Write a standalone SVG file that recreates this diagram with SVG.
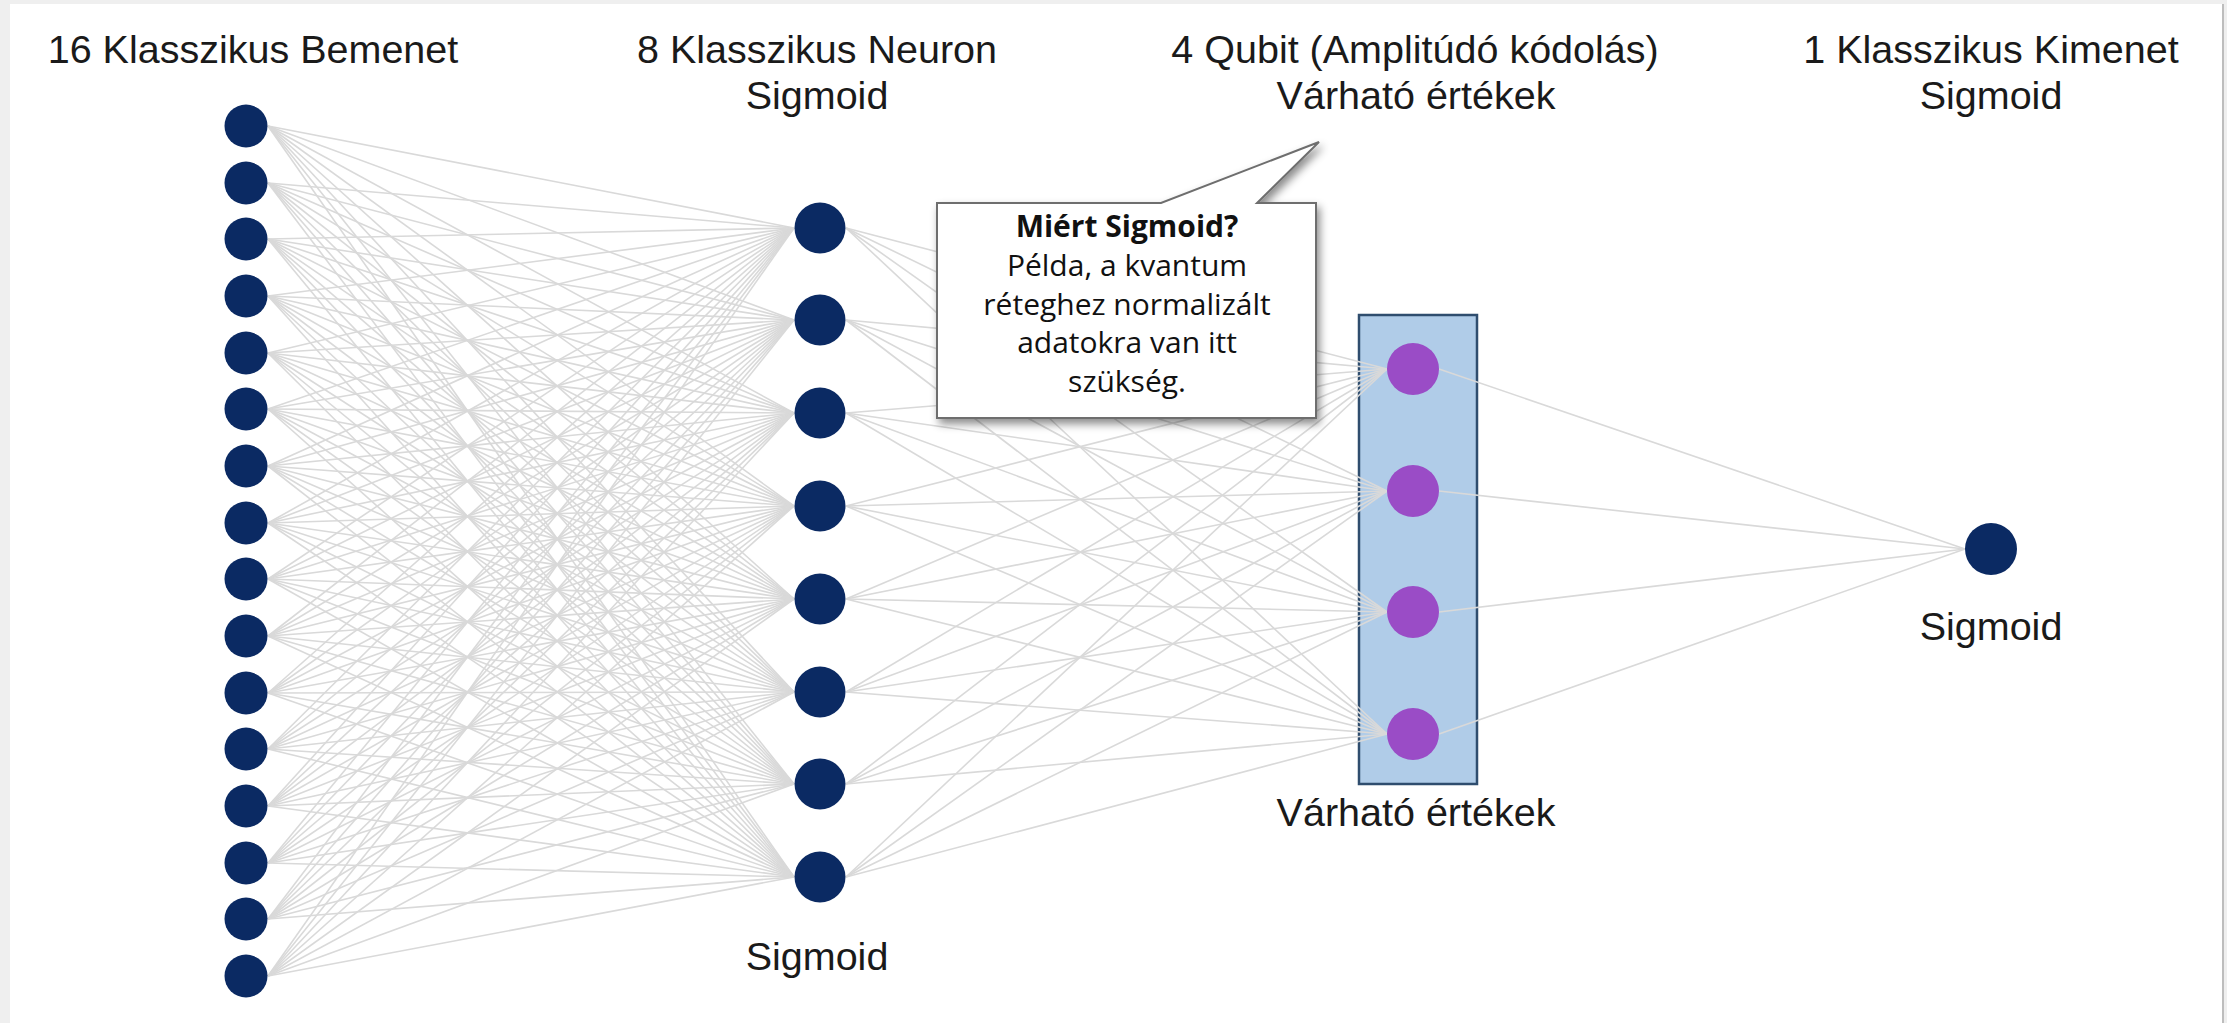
<svg xmlns="http://www.w3.org/2000/svg" width="2227" height="1023" viewBox="0 0 2227 1023">
<defs>
<style>
.lbl{font-family:"Liberation Sans",Arial,sans-serif;font-size:39.5px;fill:#1a1a1a;text-anchor:middle}
.c line{stroke:#d9d9d9;stroke-width:1.6}
.in{fill:#0b2a63}
.hid{fill:#0b2a63}
.q{fill:#9a4cc6}
.out{fill:#0b2a63}
.ct{font-family:"Open Sans","Noto Sans",sans-serif;font-size:30px;fill:#111;text-anchor:middle}
</style>
<filter id="sh" x="-10%" y="-10%" width="130%" height="140%">
<feDropShadow dx="3" dy="5" stdDeviation="4" flood-color="#000" flood-opacity="0.45"/>
</filter>
</defs>
<rect x="0" y="0" width="2227" height="1023" fill="#efefef"/>
<rect x="10" y="4" width="2212" height="1019" fill="#ffffff"/>
<line x1="2223" y1="4" x2="2223" y2="1023" stroke="#bdbdbd" stroke-width="2"/>

<g id="layer-labels">
<text class="lbl" x="253" y="63">16 Klasszikus Bemenet</text>
<text class="lbl" x="817" y="63">8 Klasszikus Neuron</text>
<text class="lbl" x="817" y="109">Sigmoid</text>
<text class="lbl" x="1415" y="63">4 Qubit (Amplitúdó kódolás)</text>
<text class="lbl" x="1416" y="109">Várható értékek</text>
<text class="lbl" x="1991" y="63">1 Klasszikus Kimenet</text>
<text class="lbl" x="1991" y="109">Sigmoid</text>
</g>

<g id="quantum-box">
<rect x="1359" y="315" width="118" height="469" fill="#b0cce8" stroke="#2f4d6e" stroke-width="2.5"/>
<text class="lbl" x="1416" y="826">Várható értékek</text>
</g>

<g id="connectors" class="c">
<line x1="268" y1="126" x2="794" y2="228"/><line x1="268" y1="126" x2="794" y2="320"/><line x1="268" y1="126" x2="794" y2="413"/><line x1="268" y1="126" x2="794" y2="506"/><line x1="268" y1="126" x2="794" y2="599"/><line x1="268" y1="126" x2="794" y2="692"/><line x1="268" y1="126" x2="794" y2="784"/><line x1="268" y1="126" x2="794" y2="877"/>
<line x1="268" y1="183" x2="794" y2="228"/><line x1="268" y1="183" x2="794" y2="320"/><line x1="268" y1="183" x2="794" y2="413"/><line x1="268" y1="183" x2="794" y2="506"/><line x1="268" y1="183" x2="794" y2="599"/><line x1="268" y1="183" x2="794" y2="692"/><line x1="268" y1="183" x2="794" y2="784"/><line x1="268" y1="183" x2="794" y2="877"/>
<line x1="268" y1="239" x2="794" y2="228"/><line x1="268" y1="239" x2="794" y2="320"/><line x1="268" y1="239" x2="794" y2="413"/><line x1="268" y1="239" x2="794" y2="506"/><line x1="268" y1="239" x2="794" y2="599"/><line x1="268" y1="239" x2="794" y2="692"/><line x1="268" y1="239" x2="794" y2="784"/><line x1="268" y1="239" x2="794" y2="877"/>
<line x1="268" y1="296" x2="794" y2="228"/><line x1="268" y1="296" x2="794" y2="320"/><line x1="268" y1="296" x2="794" y2="413"/><line x1="268" y1="296" x2="794" y2="506"/><line x1="268" y1="296" x2="794" y2="599"/><line x1="268" y1="296" x2="794" y2="692"/><line x1="268" y1="296" x2="794" y2="784"/><line x1="268" y1="296" x2="794" y2="877"/>
<line x1="268" y1="353" x2="794" y2="228"/><line x1="268" y1="353" x2="794" y2="320"/><line x1="268" y1="353" x2="794" y2="413"/><line x1="268" y1="353" x2="794" y2="506"/><line x1="268" y1="353" x2="794" y2="599"/><line x1="268" y1="353" x2="794" y2="692"/><line x1="268" y1="353" x2="794" y2="784"/><line x1="268" y1="353" x2="794" y2="877"/>
<line x1="268" y1="409" x2="794" y2="228"/><line x1="268" y1="409" x2="794" y2="320"/><line x1="268" y1="409" x2="794" y2="413"/><line x1="268" y1="409" x2="794" y2="506"/><line x1="268" y1="409" x2="794" y2="599"/><line x1="268" y1="409" x2="794" y2="692"/><line x1="268" y1="409" x2="794" y2="784"/><line x1="268" y1="409" x2="794" y2="877"/>
<line x1="268" y1="466" x2="794" y2="228"/><line x1="268" y1="466" x2="794" y2="320"/><line x1="268" y1="466" x2="794" y2="413"/><line x1="268" y1="466" x2="794" y2="506"/><line x1="268" y1="466" x2="794" y2="599"/><line x1="268" y1="466" x2="794" y2="692"/><line x1="268" y1="466" x2="794" y2="784"/><line x1="268" y1="466" x2="794" y2="877"/>
<line x1="268" y1="523" x2="794" y2="228"/><line x1="268" y1="523" x2="794" y2="320"/><line x1="268" y1="523" x2="794" y2="413"/><line x1="268" y1="523" x2="794" y2="506"/><line x1="268" y1="523" x2="794" y2="599"/><line x1="268" y1="523" x2="794" y2="692"/><line x1="268" y1="523" x2="794" y2="784"/><line x1="268" y1="523" x2="794" y2="877"/>
<line x1="268" y1="579" x2="794" y2="228"/><line x1="268" y1="579" x2="794" y2="320"/><line x1="268" y1="579" x2="794" y2="413"/><line x1="268" y1="579" x2="794" y2="506"/><line x1="268" y1="579" x2="794" y2="599"/><line x1="268" y1="579" x2="794" y2="692"/><line x1="268" y1="579" x2="794" y2="784"/><line x1="268" y1="579" x2="794" y2="877"/>
<line x1="268" y1="636" x2="794" y2="228"/><line x1="268" y1="636" x2="794" y2="320"/><line x1="268" y1="636" x2="794" y2="413"/><line x1="268" y1="636" x2="794" y2="506"/><line x1="268" y1="636" x2="794" y2="599"/><line x1="268" y1="636" x2="794" y2="692"/><line x1="268" y1="636" x2="794" y2="784"/><line x1="268" y1="636" x2="794" y2="877"/>
<line x1="268" y1="693" x2="794" y2="228"/><line x1="268" y1="693" x2="794" y2="320"/><line x1="268" y1="693" x2="794" y2="413"/><line x1="268" y1="693" x2="794" y2="506"/><line x1="268" y1="693" x2="794" y2="599"/><line x1="268" y1="693" x2="794" y2="692"/><line x1="268" y1="693" x2="794" y2="784"/><line x1="268" y1="693" x2="794" y2="877"/>
<line x1="268" y1="749" x2="794" y2="228"/><line x1="268" y1="749" x2="794" y2="320"/><line x1="268" y1="749" x2="794" y2="413"/><line x1="268" y1="749" x2="794" y2="506"/><line x1="268" y1="749" x2="794" y2="599"/><line x1="268" y1="749" x2="794" y2="692"/><line x1="268" y1="749" x2="794" y2="784"/><line x1="268" y1="749" x2="794" y2="877"/>
<line x1="268" y1="806" x2="794" y2="228"/><line x1="268" y1="806" x2="794" y2="320"/><line x1="268" y1="806" x2="794" y2="413"/><line x1="268" y1="806" x2="794" y2="506"/><line x1="268" y1="806" x2="794" y2="599"/><line x1="268" y1="806" x2="794" y2="692"/><line x1="268" y1="806" x2="794" y2="784"/><line x1="268" y1="806" x2="794" y2="877"/>
<line x1="268" y1="863" x2="794" y2="228"/><line x1="268" y1="863" x2="794" y2="320"/><line x1="268" y1="863" x2="794" y2="413"/><line x1="268" y1="863" x2="794" y2="506"/><line x1="268" y1="863" x2="794" y2="599"/><line x1="268" y1="863" x2="794" y2="692"/><line x1="268" y1="863" x2="794" y2="784"/><line x1="268" y1="863" x2="794" y2="877"/>
<line x1="268" y1="919" x2="794" y2="228"/><line x1="268" y1="919" x2="794" y2="320"/><line x1="268" y1="919" x2="794" y2="413"/><line x1="268" y1="919" x2="794" y2="506"/><line x1="268" y1="919" x2="794" y2="599"/><line x1="268" y1="919" x2="794" y2="692"/><line x1="268" y1="919" x2="794" y2="784"/><line x1="268" y1="919" x2="794" y2="877"/>
<line x1="268" y1="976" x2="794" y2="228"/><line x1="268" y1="976" x2="794" y2="320"/><line x1="268" y1="976" x2="794" y2="413"/><line x1="268" y1="976" x2="794" y2="506"/><line x1="268" y1="976" x2="794" y2="599"/><line x1="268" y1="976" x2="794" y2="692"/><line x1="268" y1="976" x2="794" y2="784"/><line x1="268" y1="976" x2="794" y2="877"/>
<line x1="846" y1="228" x2="1387" y2="369"/><line x1="846" y1="228" x2="1387" y2="491"/><line x1="846" y1="228" x2="1387" y2="612"/><line x1="846" y1="228" x2="1387" y2="734"/>
<line x1="846" y1="320" x2="1387" y2="369"/><line x1="846" y1="320" x2="1387" y2="491"/><line x1="846" y1="320" x2="1387" y2="612"/><line x1="846" y1="320" x2="1387" y2="734"/>
<line x1="846" y1="413" x2="1387" y2="369"/><line x1="846" y1="413" x2="1387" y2="491"/><line x1="846" y1="413" x2="1387" y2="612"/><line x1="846" y1="413" x2="1387" y2="734"/>
<line x1="846" y1="506" x2="1387" y2="369"/><line x1="846" y1="506" x2="1387" y2="491"/><line x1="846" y1="506" x2="1387" y2="612"/><line x1="846" y1="506" x2="1387" y2="734"/>
<line x1="846" y1="599" x2="1387" y2="369"/><line x1="846" y1="599" x2="1387" y2="491"/><line x1="846" y1="599" x2="1387" y2="612"/><line x1="846" y1="599" x2="1387" y2="734"/>
<line x1="846" y1="692" x2="1387" y2="369"/><line x1="846" y1="692" x2="1387" y2="491"/><line x1="846" y1="692" x2="1387" y2="612"/><line x1="846" y1="692" x2="1387" y2="734"/>
<line x1="846" y1="784" x2="1387" y2="369"/><line x1="846" y1="784" x2="1387" y2="491"/><line x1="846" y1="784" x2="1387" y2="612"/><line x1="846" y1="784" x2="1387" y2="734"/>
<line x1="846" y1="877" x2="1387" y2="369"/><line x1="846" y1="877" x2="1387" y2="491"/><line x1="846" y1="877" x2="1387" y2="612"/><line x1="846" y1="877" x2="1387" y2="734"/>
<line x1="1439" y1="369" x2="1965" y2="549"/><line x1="1439" y1="491" x2="1965" y2="549"/><line x1="1439" y1="612" x2="1965" y2="549"/><line x1="1439" y1="734" x2="1965" y2="549"/>
</g>

<g id="input-layer">
<g id="in1"><circle class="in" cx="246" cy="126" r="21.5"/></g>
<g id="in2"><circle class="in" cx="246" cy="183" r="21.5"/></g>
<g id="in3"><circle class="in" cx="246" cy="239" r="21.5"/></g>
<g id="in4"><circle class="in" cx="246" cy="296" r="21.5"/></g>
<g id="in5"><circle class="in" cx="246" cy="353" r="21.5"/></g>
<g id="in6"><circle class="in" cx="246" cy="409" r="21.5"/></g>
<g id="in7"><circle class="in" cx="246" cy="466" r="21.5"/></g>
<g id="in8"><circle class="in" cx="246" cy="523" r="21.5"/></g>
<g id="in9"><circle class="in" cx="246" cy="579" r="21.5"/></g>
<g id="in10"><circle class="in" cx="246" cy="636" r="21.5"/></g>
<g id="in11"><circle class="in" cx="246" cy="693" r="21.5"/></g>
<g id="in12"><circle class="in" cx="246" cy="749" r="21.5"/></g>
<g id="in13"><circle class="in" cx="246" cy="806" r="21.5"/></g>
<g id="in14"><circle class="in" cx="246" cy="863" r="21.5"/></g>
<g id="in15"><circle class="in" cx="246" cy="919" r="21.5"/></g>
<g id="in16"><circle class="in" cx="246" cy="976" r="21.5"/></g>
</g>

<g id="hidden-layer">
<g id="h1"><circle class="hid" cx="820" cy="228" r="25.5"/></g>
<g id="h2"><circle class="hid" cx="820" cy="320" r="25.5"/></g>
<g id="h3"><circle class="hid" cx="820" cy="413" r="25.5"/></g>
<g id="h4"><circle class="hid" cx="820" cy="506" r="25.5"/></g>
<g id="h5"><circle class="hid" cx="820" cy="599" r="25.5"/></g>
<g id="h6"><circle class="hid" cx="820" cy="692" r="25.5"/></g>
<g id="h7"><circle class="hid" cx="820" cy="784" r="25.5"/></g>
<g id="h8"><circle class="hid" cx="820" cy="877" r="25.5"/></g>
<text class="lbl" x="817" y="970">Sigmoid</text>
</g>

<g id="quantum-layer">
<g id="q1"><circle class="q" cx="1413" cy="369" r="26"/></g>
<g id="q2"><circle class="q" cx="1413" cy="491" r="26"/></g>
<g id="q3"><circle class="q" cx="1413" cy="612" r="26"/></g>
<g id="q4"><circle class="q" cx="1413" cy="734" r="26"/></g>
</g>

<g id="output-node">
<circle class="out" cx="1991" cy="549" r="26"/>
<text class="lbl" x="1991" y="640">Sigmoid</text>
</g>

<g id="callout">
<path d="M937 203 L1161 203 L1319 142 L1257 203 L1316 203 L1316 418 L937 418 Z" fill="#ffffff" stroke="#6e6e6e" stroke-width="2" stroke-linejoin="miter" filter="url(#sh)"/>
<text class="ct" x="1127" y="237" font-weight="bold">Miért Sigmoid?</text>
<text class="ct" x="1127" y="276">Példa, a kvantum</text>
<text class="ct" x="1127" y="315">réteghez normalizált</text>
<text class="ct" x="1127" y="353">adatokra van itt</text>
<text class="ct" x="1127" y="392">szükség.</text>
</g>
</svg>
